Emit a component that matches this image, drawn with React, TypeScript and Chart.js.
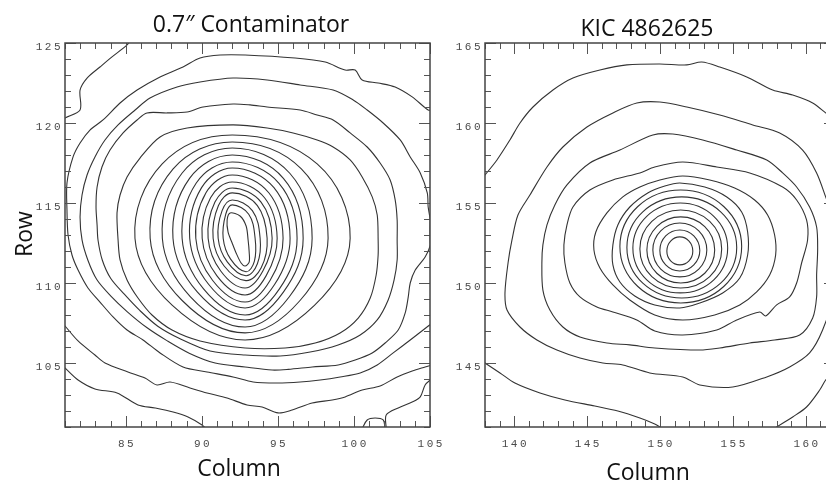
import React, { useEffect, useRef } from "react";
import { Chart, registerables } from "chart.js";

Chart.register(...registerables);

type Pt = [number, number];

// ---------- axes ----------
const leftXRange: [number, number] = [81, 105];
const leftYRange: [number, number] = [101, 125];
const rightXRange: [number, number] = [138, 162];
const rightYRange: [number, number] = [141, 165];
const leftXTicks = [85, 90, 95, 100, 105];
const leftYTicks = [105, 110, 115, 120, 125];
const rightXTicks = [140, 145, 150, 155, 160];
const rightYTicks = [145, 150, 155, 160, 165];
const leftTitle = "0.7\u2033 Contaminator";
const rightTitle = "KIC 4862625";
const xTitle = "Column";
const yTitle = "Row";

// ---------- left panel contours (Column, Row) ----------
const leftC1: Pt[] = [[80.7,120.1],[81.0,120.31],[81.99,120.81],[81.99,122.06],[82.45,122.81],[83.3,123.5],[84.09,124.13],[85.08,124.88],[85.3,125.2]];
const leftC2: Pt[] = [[105.14,120.81],[104.88,120.81],[103.83,121.63],[102.71,122.25],[101.59,122.5],[100.54,122.69],[100.08,123.31],[99.42,123.31],[98.11,123.81],[96.13,124.06],[92.84,124.25],[91.2,124.25],[89.88,124.06],[88.76,123.5],[87.25,122.88],[85.74,122.06],[84.62,121.25],[83.5,120.19],[82.64,119.56],[81.99,118.75],[81.53,117.88],[81.13,116.25],[81.13,114.56],[81.2,113.0],[81.46,111.75],[81.86,110.81],[82.51,109.69],[83.3,108.81],[84.16,107.88],[85.08,107.06],[86.13,106.44],[87.25,105.63],[88.76,104.75],[90.34,104.44],[92.05,104.13],[93.37,103.81],[94.95,103.75],[96.46,103.81],[97.78,103.94],[99.09,104.13],[100.41,104.38],[101.53,104.88],[102.58,105.63],[103.7,106.44],[104.55,107.06],[105.14,107.5]];
const leftL1: Pt[] = [[80.8,104.85],[81.0,104.69],[81.86,103.94],[82.97,103.38],[84.42,103.13],[85.8,102.38],[86.92,102.19],[88.11,101.94],[89.09,101.63],[90.01,101.13],[90.28,100.88]];
const leftL2: Pt[] = [[80.8,107.5],[81.0,107.31],[81.86,106.38],[82.97,105.5],[83.63,105.0],[85.14,104.44],[86.26,104.06],[87.05,103.63],[87.91,103.81],[89.22,103.44],[90.34,103.13],[91.66,102.81],[92.97,102.38],[93.96,102.25],[95.01,101.88],[95.93,102.06],[97.25,102.5],[98.57,102.69],[99.42,102.88],[100.54,103.31],[101.72,103.56],[102.84,104.13],[103.83,104.5],[104.68,104.75],[105.14,104.88]];
const leftBR1: Pt[] = [[100.54,100.9],[100.87,101.44],[101.39,101.56],[101.92,101.44],[102.05,100.9]];
const leftBR2: Pt[] = [[102.12,100.9],[102.12,101.75],[102.91,102.19],[103.83,102.56],[104.36,102.88],[104.68,103.63],[105.1,104.0]];
const leftC3: Pt[] = [[92.05,122.81],[89.88,122.56],[88.37,122.25],[86.59,121.56],[85.61,120.81],[84.49,119.88],[83.63,118.94],[82.97,117.88],[82.45,116.75],[82.12,115.5],[81.99,114.13],[82.12,112.69],[82.5,111.44],[83.1,110.2],[84.0,109.2],[85.1,108.2],[86.4,107.2],[87.7,106.4],[89.2,105.6],[90.87,105.0],[92.84,104.75],[94.62,104.56],[95.67,104.6],[97.25,104.75],[98.96,104.88],[100.08,105.19],[101.2,105.63],[102.05,106.25],[102.91,107.06],[103.37,108.13],[103.57,109.13],[103.7,110.0],[104.03,110.81],[104.68,111.63],[105.01,112.38],[105.01,113.94],[104.88,114.75],[104.82,115.63],[104.36,116.88],[103.7,117.88],[103.04,118.94],[101.92,120.0],[100.87,120.81],[99.95,121.44],[98.63,122.06],[96.46,122.38],[94.29,122.69]];
const leftC4: Pt[] = [[92.05,121.19],[93.17,121.13],[94.29,121.0],[96.46,120.81],[97.58,120.5],[98.63,120.19],[99.75,119.38],[100.87,118.5],[101.72,117.5],[102.38,116.44],[102.71,115.19],[102.84,113.94],[102.84,112.69],[102.84,111.44],[102.64,110.19],[102.25,108.94],[101.53,107.69],[100.41,106.75],[98.96,106.13],[97.12,105.69],[95.14,105.44],[92.84,105.5],[90.54,105.75],[88.6,106.5],[87.1,107.3],[85.9,108.3],[84.9,109.3],[84.0,110.3],[83.45,111.44],[83.17,112.69],[83.11,113.63],[83.04,114.75],[83.11,116.0],[83.43,117.25],[83.96,118.31],[84.82,119.38],[85.74,120.19],[86.39,120.63],[87.71,120.63],[89.03,120.69],[90.08,121.0]];
const leftC5: Pt[] = [[92.05,119.88],[94.29,119.69],[96.0,119.38],[97.58,118.94],[98.63,118.5],[99.75,117.69],[100.54,116.63],[101.2,115.38],[101.53,114.25],[101.59,112.69],[101.59,111.75],[101.46,110.5],[101.07,109.06],[100.28,107.81],[99.09,106.88],[97.45,106.25],[95.47,105.94],[92.84,105.94],[89.88,106.38],[88.04,107.06],[86.72,108.0],[85.8,109.06],[85.08,110.19],[84.62,111.44],[84.49,112.69],[84.42,114.38],[84.62,115.5],[85.08,116.63],[85.93,117.81],[87.25,119.13],[89.03,119.69]];
const leftC6: Pt[] = [[92.0,119.25],[97.58,117.44],[99.75,112.8],[97.4,108.6],[92.84,106.44],[88.06,108.6],[85.6,112.8],[87.39,117.44]];
const leftC7: Pt[] = [[92.0,118.81],[96.54,117.13],[98.3,112.8],[96.44,108.89],[92.84,106.88],[88.72,108.89],[86.6,112.8],[88.11,117.13]];
const leftC8: Pt[] = [[92.0,118.44],[95.78,116.86],[97.25,112.8],[95.75,109.14],[92.84,107.25],[89.25,109.14],[87.4,112.8],[88.69,116.86]];
const leftC9: Pt[] = [[92.0,118.0],[95.36,116.54],[96.66,112.8],[95.36,109.43],[92.84,107.69],[89.71,109.43],[88.1,112.8],[89.19,116.54]];
const leftC10: Pt[] = [[92.0,117.56],[95.07,116.23],[96.26,112.8],[95.1,109.63],[92.84,108.0],[90.11,109.63],[88.7,112.8],[89.62,116.23]];
const leftC11: Pt[] = [[92.0,117.19],[94.74,115.96],[95.8,112.8],[94.79,109.92],[92.84,108.44],[90.44,109.92],[89.2,112.8],[89.98,115.96]];
const leftC12: Pt[] = [[92.0,116.75],[94.4,115.64],[95.34,112.8],[94.49,110.17],[92.84,108.81],[90.7,110.17],[89.6,112.8],[90.27,115.64]];
const leftC13: Pt[] = [[92.0,116.31],[94.12,115.33],[94.95,112.8],[94.23,110.46],[92.84,109.25],[90.98,110.46],[90.02,112.8],[90.57,115.33]];
const leftC14: Pt[] = [[92.0,115.94],[93.89,115.06],[94.62,112.8],[94.01,110.75],[92.84,109.69],[91.24,110.75],[90.41,112.8],[90.86,115.06]];
const leftC15: Pt[] = [[92.0,115.63],[93.65,114.84],[94.29,112.8],[93.9,110.95],[92.9,110.15],[91.45,111.08],[90.74,112.8],[91.09,114.84]];
const leftC16: Pt[] = [[92.0,115.19],[93.32,114.52],[93.83,112.8],[93.65,111.2],[92.9,110.45],[91.67,111.32],[91.07,112.8],[91.33,114.52]];
const leftC17: Pt[] = [[92.0,114.88],[93.08,114.3],[93.5,112.8],[93.45,111.35],[92.9,110.7],[91.89,111.49],[91.4,112.8],[91.57,114.3]];
const leftI1: Pt[] = [[91.86,114.38],[92.51,114.19],[92.91,113.56],[93.04,112.69],[93.11,111.94],[93.11,111.31],[92.84,111.06],[92.58,111.25],[92.25,111.88],[91.99,112.5],[91.72,113.19],[91.66,113.94]];

// ---------- right panel contours (Column, Row) ----------
const rightR1: Pt[] = [[137.66,156.38],[138.0,156.75],[138.82,157.69],[139.71,158.94],[140.4,160.0],[141.29,161.0],[142.66,162.06],[144.03,162.81],[145.88,163.31],[147.73,163.63],[149.99,163.69],[151.84,163.63],[152.86,163.81],[154.1,163.5],[155.95,162.88],[157.73,162.06],[159.1,161.75],[160.47,161.25],[161.36,160.63],[161.97,160.19]];
const rightRb1: Pt[] = [[137.66,145.19],[138.0,145.0],[139.03,144.38],[140.05,143.75],[141.77,143.13],[143.48,142.69],[145.53,142.31],[147.11,142.0],[148.62,141.56],[149.64,141.19],[150.12,140.94]];
const rightRb2: Pt[] = [[157.7,140.8],[158.0,141.0],[159.1,141.63],[160.05,142.25],[160.95,143.31],[161.36,143.94],[161.97,144.56]];
const rightR2: Pt[] = [[149.99,161.31],[151.84,161.0],[154.1,160.5],[156.36,159.88],[158.21,159.38],[159.78,158.31],[160.74,156.88],[161.36,155.38],[161.9,153.94],[162.11,151.75],[161.9,149.25],[161.15,147.06],[160.26,145.63],[158.89,144.75],[157.32,144.13],[154.99,143.5],[152.73,143.63],[151.56,144.13],[149.3,144.38],[147.45,144.88],[146.08,145.0],[144.51,145.31],[142.93,145.81],[141.56,146.44],[140.4,147.25],[139.51,148.31],[139.37,149.38],[139.58,151.25],[139.85,152.69],[140.26,154.25],[141.08,155.5],[142.25,157.25],[143.34,158.5],[144.99,159.75],[146.77,160.63],[148.41,161.25]];
const rightR3: Pt[] = [[149.51,159.25],[150.88,159.31],[152.93,158.94],[155.26,158.31],[157.32,157.69],[158.41,156.88],[159.37,156.0],[160.26,154.75],[160.74,153.5],[160.81,152.06],[160.74,150.5],[160.74,149.13],[160.47,147.81],[159.58,146.75],[157.86,146.44],[156.15,146.25],[154.1,145.94],[152.73,145.81],[149.64,145.94],[147.93,146.13],[146.36,146.25],[144.51,146.63],[143.34,147.25],[142.45,148.31],[141.97,149.56],[141.9,151.25],[141.97,152.38],[142.25,153.63],[142.79,154.88],[143.62,156.13],[145.19,157.5],[147.25,158.31]];
const rightR4: Pt[] = [[151.56,157.56],[153.89,157.25],[156.15,156.88],[158.41,156.0],[159.37,155.19],[160.05,153.94],[160.12,152.69],[159.71,151.25],[159.37,150.0],[158.89,149.13],[158.0,148.63],[157.25,147.94],[156.84,148.19],[155.26,147.69],[153.89,147.06],[151.56,146.75],[149.64,147.0],[148.41,147.69],[146.77,148.19],[145.67,148.5],[144.51,149.13],[143.82,150.0],[143.48,151.25],[143.41,152.38],[143.62,153.63],[144.03,154.75],[145.19,155.81],[146.77,156.44],[148.62,156.88],[149.64,157.25]];
const rightR5: Pt[] = [[151.56,156.69],[153.41,156.44],[155.12,155.94],[156.49,155.19],[157.38,154.25],[157.86,153.0],[157.93,151.75],[157.52,150.5],[156.63,149.44],[155.47,148.63],[153.75,148.0],[151.56,147.69],[149.64,148.0],[147.93,148.94],[146.77,149.88],[145.88,150.94],[145.47,152.06],[145.6,153.19],[146.36,154.38],[147.45,155.38],[148.62,156.0],[149.99,156.44]];
const rightR6: Pt[] = [[151.36,156.25],[153.07,156.0],[154.58,155.38],[155.6,154.44],[156.01,153.19],[156.01,151.75],[155.47,150.31],[154.3,149.38],[152.73,148.75],[151.36,148.44],[149.64,148.63],[148.27,149.19],[147.25,150.06],[146.77,151.13],[146.77,152.38],[147.11,153.63],[147.93,154.75],[149.16,155.63],[150.33,156.06]];
const rightR7: Pt[] = [[151.42,155.81],[154.37,154.78],[155.6,152.28],[154.37,149.78],[151.42,148.75],[148.48,149.78],[147.25,152.28],[148.48,154.78]];
const rightR8: Pt[] = [[151.49,155.38],[154.16,154.45],[155.26,152.22],[154.16,149.99],[151.49,149.06],[148.82,149.99],[147.73,152.22],[148.82,154.45]];
const rightR9: Pt[] = [[151.39,155.0],[153.69,154.17],[154.64,152.19],[153.69,150.2],[151.39,149.38],[149.09,150.2],[148.14,152.19],[149.09,154.17]];
const rightR10: Pt[] = [[151.42,154.56],[153.41,153.85],[154.23,152.13],[153.41,150.4],[151.42,149.69],[149.44,150.4],[148.62,152.13],[149.44,153.85]];
const rightR11: Pt[] = [[151.42,154.13],[153.07,153.52],[153.75,152.06],[153.07,150.61],[151.42,150.0],[149.78,150.61],[149.1,152.06],[149.78,153.52]];
const rightR12: Pt[] = [[151.36,153.75],[152.66,153.26],[153.21,152.06],[152.66,150.87],[151.36,150.38],[150.05,150.87],[149.51,152.06],[150.05,153.26]];
const rightR13: Pt[] = [[151.36,153.31],[152.32,152.94],[152.73,152.03],[152.32,151.13],[151.36,150.75],[150.39,151.13],[149.99,152.03],[150.39,152.94]];
const rightR14: Pt[] = [[151.36,152.88],[151.99,152.62],[152.25,152.0],[151.99,151.38],[151.36,151.13],[150.73,151.38],[150.47,152.0],[150.73,152.62]];

const leftOpen = [leftC1, leftC2, leftL1, leftL2, leftBR1, leftBR2];
const leftClosedTraced = [leftC3, leftC4, leftC5, leftI1];
const leftClosedOval = [leftC6, leftC7, leftC8, leftC9, leftC10, leftC11, leftC12, leftC13, leftC14, leftC15, leftC16, leftC17];
const rightOpen = [rightR1, rightRb1, rightRb2];
const rightClosedTraced = [rightR2, rightR3, rightR4, rightR5, rightR6];
const rightClosedOval = [rightR7, rightR8, rightR9, rightR10, rightR11, rightR12, rightR13, rightR14];

const LINE = "#333333";

function openSet(pts: Pt[], tension: number) {
  return {
    data: pts.map(([x, y]) => ({ x, y })),
    tension,
  };
}

function closedSet(pts: Pt[], tension: number) {
  const d = [pts[pts.length - 1], ...pts, pts[0], pts[1]];
  const n = d.length;
  return {
    data: d.map(([x, y]) => ({ x, y })),
    tension,
    segment: {
      borderColor: (c: any) =>
        c.p0DataIndex === 0 || c.p1DataIndex === n - 1 ? "rgba(0,0,0,0)" : undefined,
    },
  };
}

const framePlugin = {
  id: "frame",
  afterDraw(chart: any, _args: any, opts: any) {
    const { ctx, chartArea: a, scales } = chart;
    const xs = scales.x;
    const ys = scales.y;
    ctx.save();
    ctx.strokeStyle = "#555";
    ctx.lineWidth = 1;
    ctx.beginPath();
    for (let v = Math.ceil(xs.min); v <= Math.floor(xs.max); v++) {
      const p = Math.round(xs.getPixelForValue(v)) + 0.5;
      const len = v % 5 === 0 ? 11 : 6;
      ctx.moveTo(p, a.bottom);
      ctx.lineTo(p, a.bottom - len);
      ctx.moveTo(p, a.top);
      ctx.lineTo(p, a.top + len);
    }
    for (let v = Math.ceil(ys.min); v <= Math.floor(ys.max); v++) {
      const p = Math.round(ys.getPixelForValue(v)) + 0.5;
      const len = v % 5 === 0 ? 11 : 6;
      ctx.moveTo(a.left, p);
      ctx.lineTo(a.left + len, p);
      ctx.moveTo(a.right, p);
      ctx.lineTo(a.right - len, p);
    }
    ctx.stroke();
    ctx.lineWidth = 1.5;
    ctx.strokeStyle = "#444";
    ctx.strokeRect(a.left, a.top, a.right - a.left, a.bottom - a.top);

    ctx.fillStyle = "#4a4a4a";
    ctx.font = "11px 'Liberation Mono'";
    (ctx as any).letterSpacing = "2.5px";
    ctx.textAlign = "center";
    ctx.textBaseline = "middle";
    for (const v of opts.xTicks) ctx.fillText(String(v), xs.getPixelForValue(v) + 1.2, a.bottom + 17);
    ctx.textAlign = "right";
    for (const v of opts.yTicks) ctx.fillText(String(v), a.left - 2, ys.getPixelForValue(v) + 4);
    (ctx as any).letterSpacing = "0px";

    ctx.fillStyle = "#111";
    ctx.font = "23px 'Open Sans'";
    ctx.textAlign = "center";
    ctx.textBaseline = "alphabetic";
    ctx.fillText(opts.title, opts.titleX, opts.titleY);
    ctx.fillText(opts.xTitle, opts.xTitleX, opts.xTitleY);
    if (opts.yTitle) {
      ctx.translate(opts.yTitleX, opts.yTitleY);
      ctx.rotate(-Math.PI / 2);
      ctx.fillText(opts.yTitle, 0, 0);
    }
    ctx.restore();
  },
};

function makeConfig(
  open: Pt[][],
  traced: Pt[][],
  oval: Pt[][],
  xr: [number, number],
  yr: [number, number],
  padding: any,
  frame: any
): any {
  const datasets = [
    ...open.map((p) => openSet(p, 0.3)),
    ...traced.map((p) => closedSet(p, 0.3)),
    ...oval.map((p) => closedSet(p, 0.38)),
  ].map((d) => ({
    ...d,
    borderColor: LINE,
    borderWidth: 1.1,
    pointRadius: 0,
    pointHoverRadius: 0,
    showLine: true,
    fill: false,
  }));
  return {
    type: "scatter",
    data: { datasets },
    options: {
      responsive: false,
      animation: false,
      events: [],
      layout: { padding },
      plugins: { legend: { display: false }, tooltip: { enabled: false }, frame },
      scales: {
        x: { type: "linear", min: xr[0], max: xr[1], display: false },
        y: { type: "linear", min: yr[0], max: yr[1], display: false },
      },
    },
    plugins: [framePlugin],
  };
}

export default function App() {
  const leftRef = useRef<HTMLCanvasElement>(null);
  const rightRef = useRef<HTMLCanvasElement>(null);

  useEffect(() => {
    const c1 = new Chart(
      leftRef.current as HTMLCanvasElement,
      makeConfig(
        leftOpen,
        leftClosedTraced,
        leftClosedOval,
        leftXRange,
        leftYRange,
        { left: 65, right: 30, top: 43, bottom: 54 },
        {
          xTicks: leftXTicks,
          yTicks: leftYTicks,
          title: leftTitle,
          titleX: 251,
          titleY: 32,
          xTitle,
          xTitleX: 239,
          xTitleY: 476,
          yTitle,
          yTitleX: 32,
          yTitleY: 234,
        }
      )
    );
    const c2 = new Chart(
      rightRef.current as HTMLCanvasElement,
      makeConfig(
        rightOpen,
        rightClosedTraced,
        rightClosedOval,
        rightXRange,
        rightYRange,
        { left: 65, right: 15, top: 43, bottom: 54 },
        {
          xTicks: rightXTicks,
          yTicks: rightYTicks,
          title: rightTitle,
          titleX: 227,
          titleY: 36,
          xTitle,
          xTitleX: 228,
          xTitleY: 480,
        }
      )
    );
    return () => {
      c1.destroy();
      c2.destroy();
    };
  }, []);

  return (
    <div
      style={{
        position: "absolute",
        left: 0,
        top: 0,
        width: 826,
        height: 481,
        overflow: "hidden",
        background: "#fff",
      }}
    >
      <canvas ref={leftRef} width={460} height={481} style={{ position: "absolute", left: 0, top: 0 }} />
      <canvas ref={rightRef} width={430} height={481} style={{ position: "absolute", left: 420, top: 0 }} />
    </div>
  );
}
